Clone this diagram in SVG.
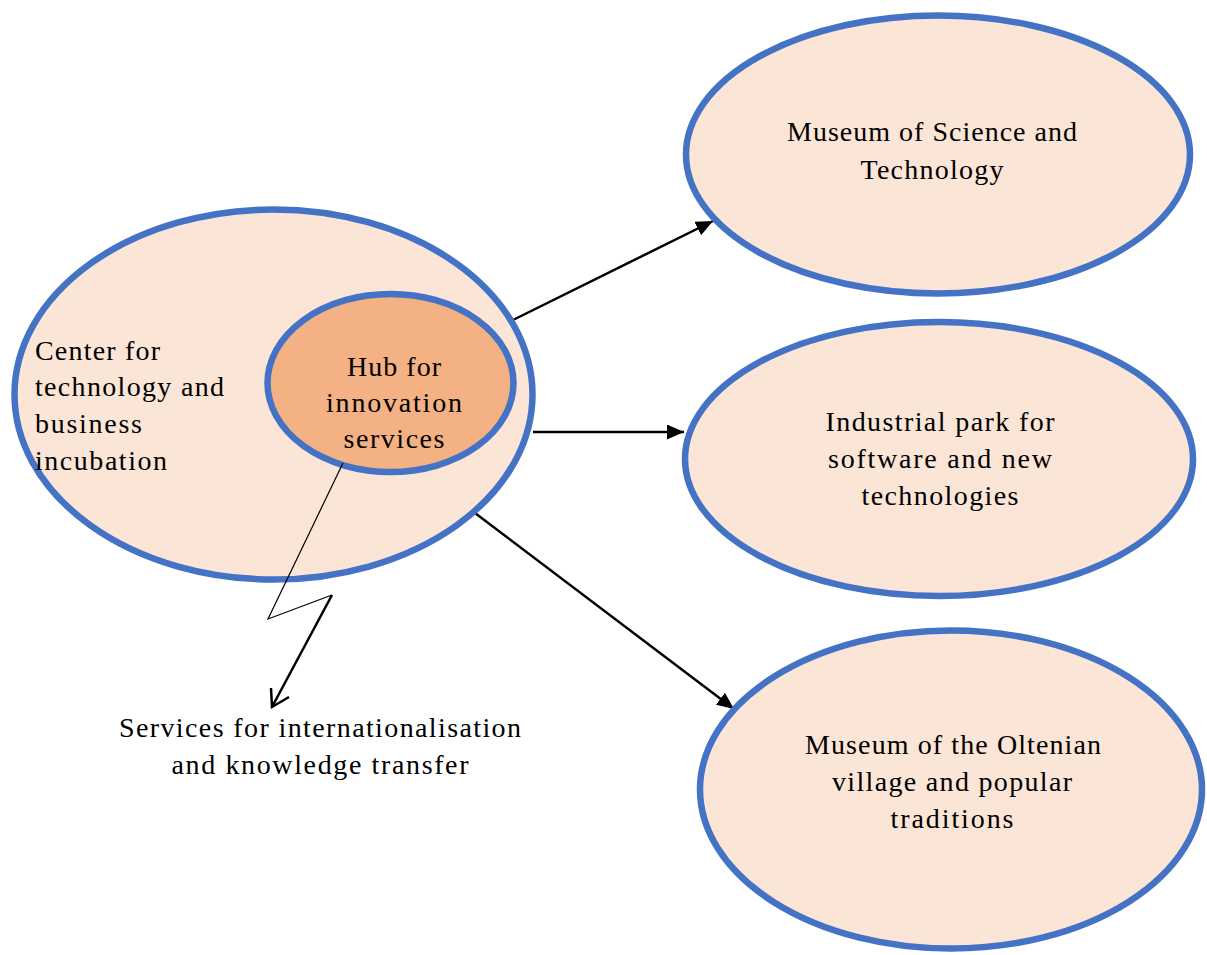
<svg xmlns="http://www.w3.org/2000/svg" width="1207" height="955" viewBox="0 0 1207 955">
<style>
.node{fill:#FBE5D6;stroke:#4472C4;stroke-width:6.5}
.inner{fill:#F4B183;stroke:#4472C4;stroke-width:6.5}
text{font-family:"Liberation Serif","Times New Roman",serif;font-size:28px;fill:#000}
.c{text-anchor:middle}
.conn{stroke:#000;stroke-width:2.5;fill:none}
</style>
<defs>
<marker id="arr" markerUnits="userSpaceOnUse" markerWidth="18" markerHeight="16" refX="17" refY="7.5" orient="auto">
<path d="M0,0 L17,7.5 L0,15 z" fill="#000"/>
</marker>
</defs>
<rect width="1207" height="955" fill="#fff"/>
<g id="connectors">
<line class="conn" x1="513" y1="320" x2="713" y2="221" marker-end="url(#arr)"/>
<line class="conn" x1="533" y1="432" x2="684" y2="432" marker-end="url(#arr)"/>
<line class="conn" x1="475" y1="513" x2="734" y2="709" marker-end="url(#arr)"/>
</g>
<g id="center">
<ellipse class="node" cx="273.5" cy="394.5" rx="259" ry="185"/>
<text x="35" y="360" textLength="125" lengthAdjust="spacing">Center for</text>
<text x="35" y="396" textLength="189" lengthAdjust="spacing">technology and</text>
<text x="35" y="433" textLength="107" lengthAdjust="spacing">business</text>
<text x="35" y="470" textLength="132" lengthAdjust="spacing">incubation</text>
</g>
<g id="hub">
<ellipse class="inner" cx="390.5" cy="383" rx="123" ry="89"/>
<text class="c" x="394" y="376" textLength="94" lengthAdjust="spacing">Hub for</text>
<text class="c" x="394" y="412" textLength="136" lengthAdjust="spacing">innovation</text>
<text class="c" x="394" y="448" textLength="101" lengthAdjust="spacing">services</text>
</g>
<g id="bolt">
<polyline points="343,463 268,619 332,595" fill="none" stroke="#000" stroke-width="1.2"/>
<line x1="332" y1="595" x2="272" y2="707" stroke="#000" stroke-width="2.5"/>
<polyline points="271,688 272,707 289,697" fill="none" stroke="#000" stroke-width="2.5"/>
</g>
<g id="services">
<text class="c" x="320" y="737" textLength="402" lengthAdjust="spacing">Services for internationalisation</text>
<text class="c" x="320" y="774" textLength="297" lengthAdjust="spacing">and knowledge transfer</text>
</g>
<g id="museum-science">
<ellipse class="node" cx="938" cy="154.5" rx="252" ry="139"/>
<text class="c" x="932" y="141" textLength="290" lengthAdjust="spacing">Museum of Science and</text>
<text class="c" x="932" y="179" textLength="143" lengthAdjust="spacing">Technology</text>
</g>
<g id="industrial-park">
<ellipse class="node" cx="939" cy="459" rx="254" ry="137"/>
<text class="c" x="940" y="431" textLength="229" lengthAdjust="spacing">Industrial park for</text>
<text class="c" x="940" y="468" textLength="224" lengthAdjust="spacing">software and new</text>
<text class="c" x="940" y="505" textLength="157" lengthAdjust="spacing">technologies</text>
</g>
<g id="museum-village">
<ellipse class="node" cx="951" cy="789.5" rx="251" ry="159"/>
<text class="c" x="953" y="754" textLength="296" lengthAdjust="spacing">Museum of the Oltenian</text>
<text class="c" x="952" y="791" textLength="240" lengthAdjust="spacing">village and popular</text>
<text class="c" x="952" y="828" textLength="123" lengthAdjust="spacing">traditions</text>
</g>
</svg>
